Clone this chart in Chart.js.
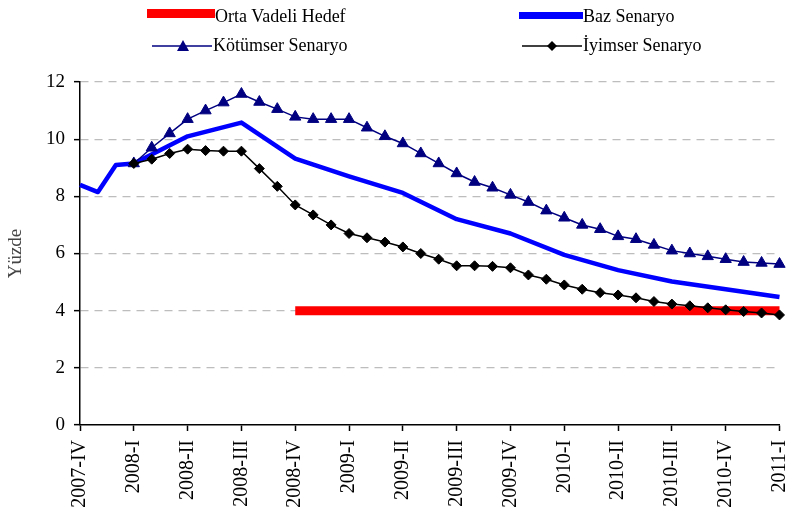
<!DOCTYPE html>
<html>
<head>
<meta charset="utf-8">
<script src="https://cdn.jsdelivr.net/npm/chart.js@4.4.1/dist/chart.umd.min.js"></script>
<style>
  html, body { margin: 0; padding: 0; background: #fff; }
  #wrap { position: relative; width: 787px; height: 516px; overflow: hidden; }
  #c { position: absolute; left: 0; top: 0; }
  .lg { position: absolute; font-family: "Liberation Serif", "Times New Roman", serif; font-size: 18px; color: #000; line-height: 20px; white-space: nowrap; }
  #lgsvg { position: absolute; left: 0; top: 0; }
</style>
</head>
<body>
<div id="wrap">
  <canvas id="c" width="787" height="516"></canvas>
  <svg id="lgsvg" width="787" height="60">
    <rect x="147" y="9" width="68" height="9" fill="#ff0000"></rect>
    <rect x="519" y="12" width="64" height="7" fill="#0000ff"></rect>
    <line x1="152" y1="46" x2="212" y2="46" stroke="#000080" stroke-width="1.5"></line>
    <polygon points="183,40 189,51 177,51" fill="#000080"></polygon>
    <line x1="522" y1="46" x2="582" y2="46" stroke="#000000" stroke-width="1.5"></line>
    <polygon points="552,41 557,46 552,51 547,46" fill="#000000"></polygon>
  </svg>
  <div class="lg" style="left:215px; top:6px;">Orta Vadeli Hedef</div>
  <div class="lg" style="left:583px; top:6px;">Baz Senaryo</div>
  <div class="lg" style="left:213px; top:35px;">Kötümser Senaryo</div>
  <div class="lg" style="left:583px; top:35px;">İyimser Senaryo</div>
</div>
<script>
// Monthly categories (Dec 2007 .. Mar 2011)
const categories = [
  "2007-12","2008-01","2008-02","2008-03","2008-04","2008-05","2008-06","2008-07","2008-08","2008-09",
  "2008-10","2008-11","2008-12","2009-01","2009-02","2009-03","2009-04","2009-05","2009-06","2009-07",
  "2009-08","2009-09","2009-10","2009-11","2009-12","2010-01","2010-02","2010-03","2010-04","2010-05",
  "2010-06","2010-07","2010-08","2010-09","2010-10","2010-11","2010-12","2011-01","2011-02","2011-03"
];
// Quarter tick labels (shown every 3rd month)
const quarterLabels = [
  "2007-IV","2008-I","2008-II","2008-III","2008-IV","2009-I","2009-II",
  "2009-III","2009-IV","2010-I","2010-II","2010-III","2010-IV","2011-I"
];
const yTicks = [0, 2, 4, 6, 8, 10, 12];

const ortaVadeliHedef = [
  null,null,null,null,null,null,null,null,null,null,null,null,
  4,4,4,4,4,4,4,4,4,4,4,4,4,4,4,4,4,4,4,4,4,4,4,4,4,4,4,4
];
const bazSenaryo = [
  8.40, 8.15, 9.10, 9.15, null, null, 10.10, null, null, 10.58,
  null, null, 9.32, null, null, 8.70, null, null, 8.12, null,
  null, 7.20, null, null, 6.70, null, null, 5.95, null, null,
  5.42, null, null, 5.02, null, null, 4.75, null, null, 4.48
];
const kotumserSenaryo = [
  null, null, null, 9.15, 9.70, 10.20, 10.70, 11.00, 11.28, 11.58,
  11.30, 11.05, 10.78, 10.70, 10.70, 10.70, 10.40, 10.10, 9.85, 9.50,
  9.15, 8.80, 8.50, 8.30, 8.05, 7.80, 7.50, 7.25, 7.00, 6.85,
  6.60, 6.50, 6.30, 6.10, 6.00, 5.90, 5.80, 5.70, 5.67, 5.63
];
const iyimserSenaryo = [
  null, null, null, 9.15, 9.30, 9.50, 9.65, 9.60, 9.58, 9.58,
  8.97, 8.35, 7.70, 7.35, 7.00, 6.70, 6.55, 6.40, 6.23, 6.00,
  5.80, 5.57, 5.57, 5.55, 5.50, 5.25, 5.10, 4.90, 4.75, 4.63,
  4.55, 4.45, 4.32, 4.23, 4.17, 4.10, 4.03, 3.97, 3.92, 3.85
];

const serif = "'Liberation Serif', 'Times New Roman', serif";

new Chart(document.getElementById('c'), {
  type: 'line',
  data: {
    labels: categories,
    datasets: [
      {
        label: 'Orta Vadeli Hedef',
        data: ortaVadeliHedef,
        borderColor: '#ff0000',
        borderWidth: 9,
        borderCapStyle: 'butt',
        pointRadius: 0,
        fill: false,
        order: 4
      },
      {
        label: 'Baz Senaryo',
        data: bazSenaryo,
        borderColor: '#0000ff',
        borderWidth: 4.5,
        pointRadius: 0,
        spanGaps: true,
        borderJoinStyle: 'round',
        fill: false,
        order: 3
      },
      {
        label: 'Kötümser Senaryo',
        data: kotumserSenaryo,
        borderColor: '#000080',
        backgroundColor: '#000080',
        borderWidth: 1.5,
        pointStyle: 'triangle',
        pointRadius: 6.5,
        pointBorderWidth: 1,
        pointBackgroundColor: '#000080',
        pointBorderColor: '#000080',
        fill: false,
        order: 2
      },
      {
        label: 'İyimser Senaryo',
        data: iyimserSenaryo,
        borderColor: '#000000',
        backgroundColor: '#000000',
        borderWidth: 1.5,
        pointStyle: 'rectRot',
        pointRadius: 5,
        pointBorderWidth: 1,
        pointBackgroundColor: '#000000',
        pointBorderColor: '#000000',
        fill: false,
        order: 1
      }
    ]
  },
  options: {
    responsive: false,
    animation: false,
    events: [],
    layout: { padding: { top: 82, right: 5, left: 0, bottom: 0 } },
    plugins: {
      legend: { display: false },
      tooltip: { enabled: false }
    },
    scales: {
      x: {
        type: 'category',
        offset: false,
        border: { display: true, color: '#000', width: 1.5 },
        grid: {
          drawOnChartArea: false,
          drawTicks: true,
          tickLength: 6,
          tickColor: (ctx) => (ctx.index % 3 === 0 ? '#000' : 'rgba(0,0,0,0)'),
          color: 'rgba(0,0,0,0)',
          tickWidth: 1.5
        },
        ticks: {
          autoSkip: false,
          maxRotation: 90,
          minRotation: 90,
          padding: 9,
          color: '#000',
          font: { family: serif, size: 20 },
          callback: function (value, index) {
            return index % 3 === 0 ? quarterLabels[index / 3] : '';
          }
        },
        afterFit: function (scale) {
          scale.height = 91;
          scale.paddingLeft = 0;
          scale.paddingRight = 0;
        }
      },
      y: {
        min: 0,
        max: 12,
        border: { display: true, color: '#000', width: 1.5, dash: [8, 6] },
        grid: {
          color: (ctx) => (ctx.tick && ctx.tick.value === 0 ? 'rgba(0,0,0,0)' : '#bdbdbd'),
          lineWidth: 1.3,
          drawTicks: true,
          tickLength: 6,
          tickColor: '#000',
          tickWidth: 1.5,
          tickBorderDash: []
        },
        afterBuildTicks: function (scale) {
          scale.ticks = yTicks.map(v => ({ value: v }));
        },
        ticks: {
          padding: 9,
          color: '#000',
          font: { family: serif, size: 19 }
        },
        title: {
          display: true,
          text: 'Yüzde',
          color: '#444',
          font: { family: serif, size: 19 },
          padding: { top: 5, bottom: 0 }
        },
        afterFit: function (scale) {
          scale.width = 80;
        }
      }
    }
  }
});
</script>
</body>
</html>
